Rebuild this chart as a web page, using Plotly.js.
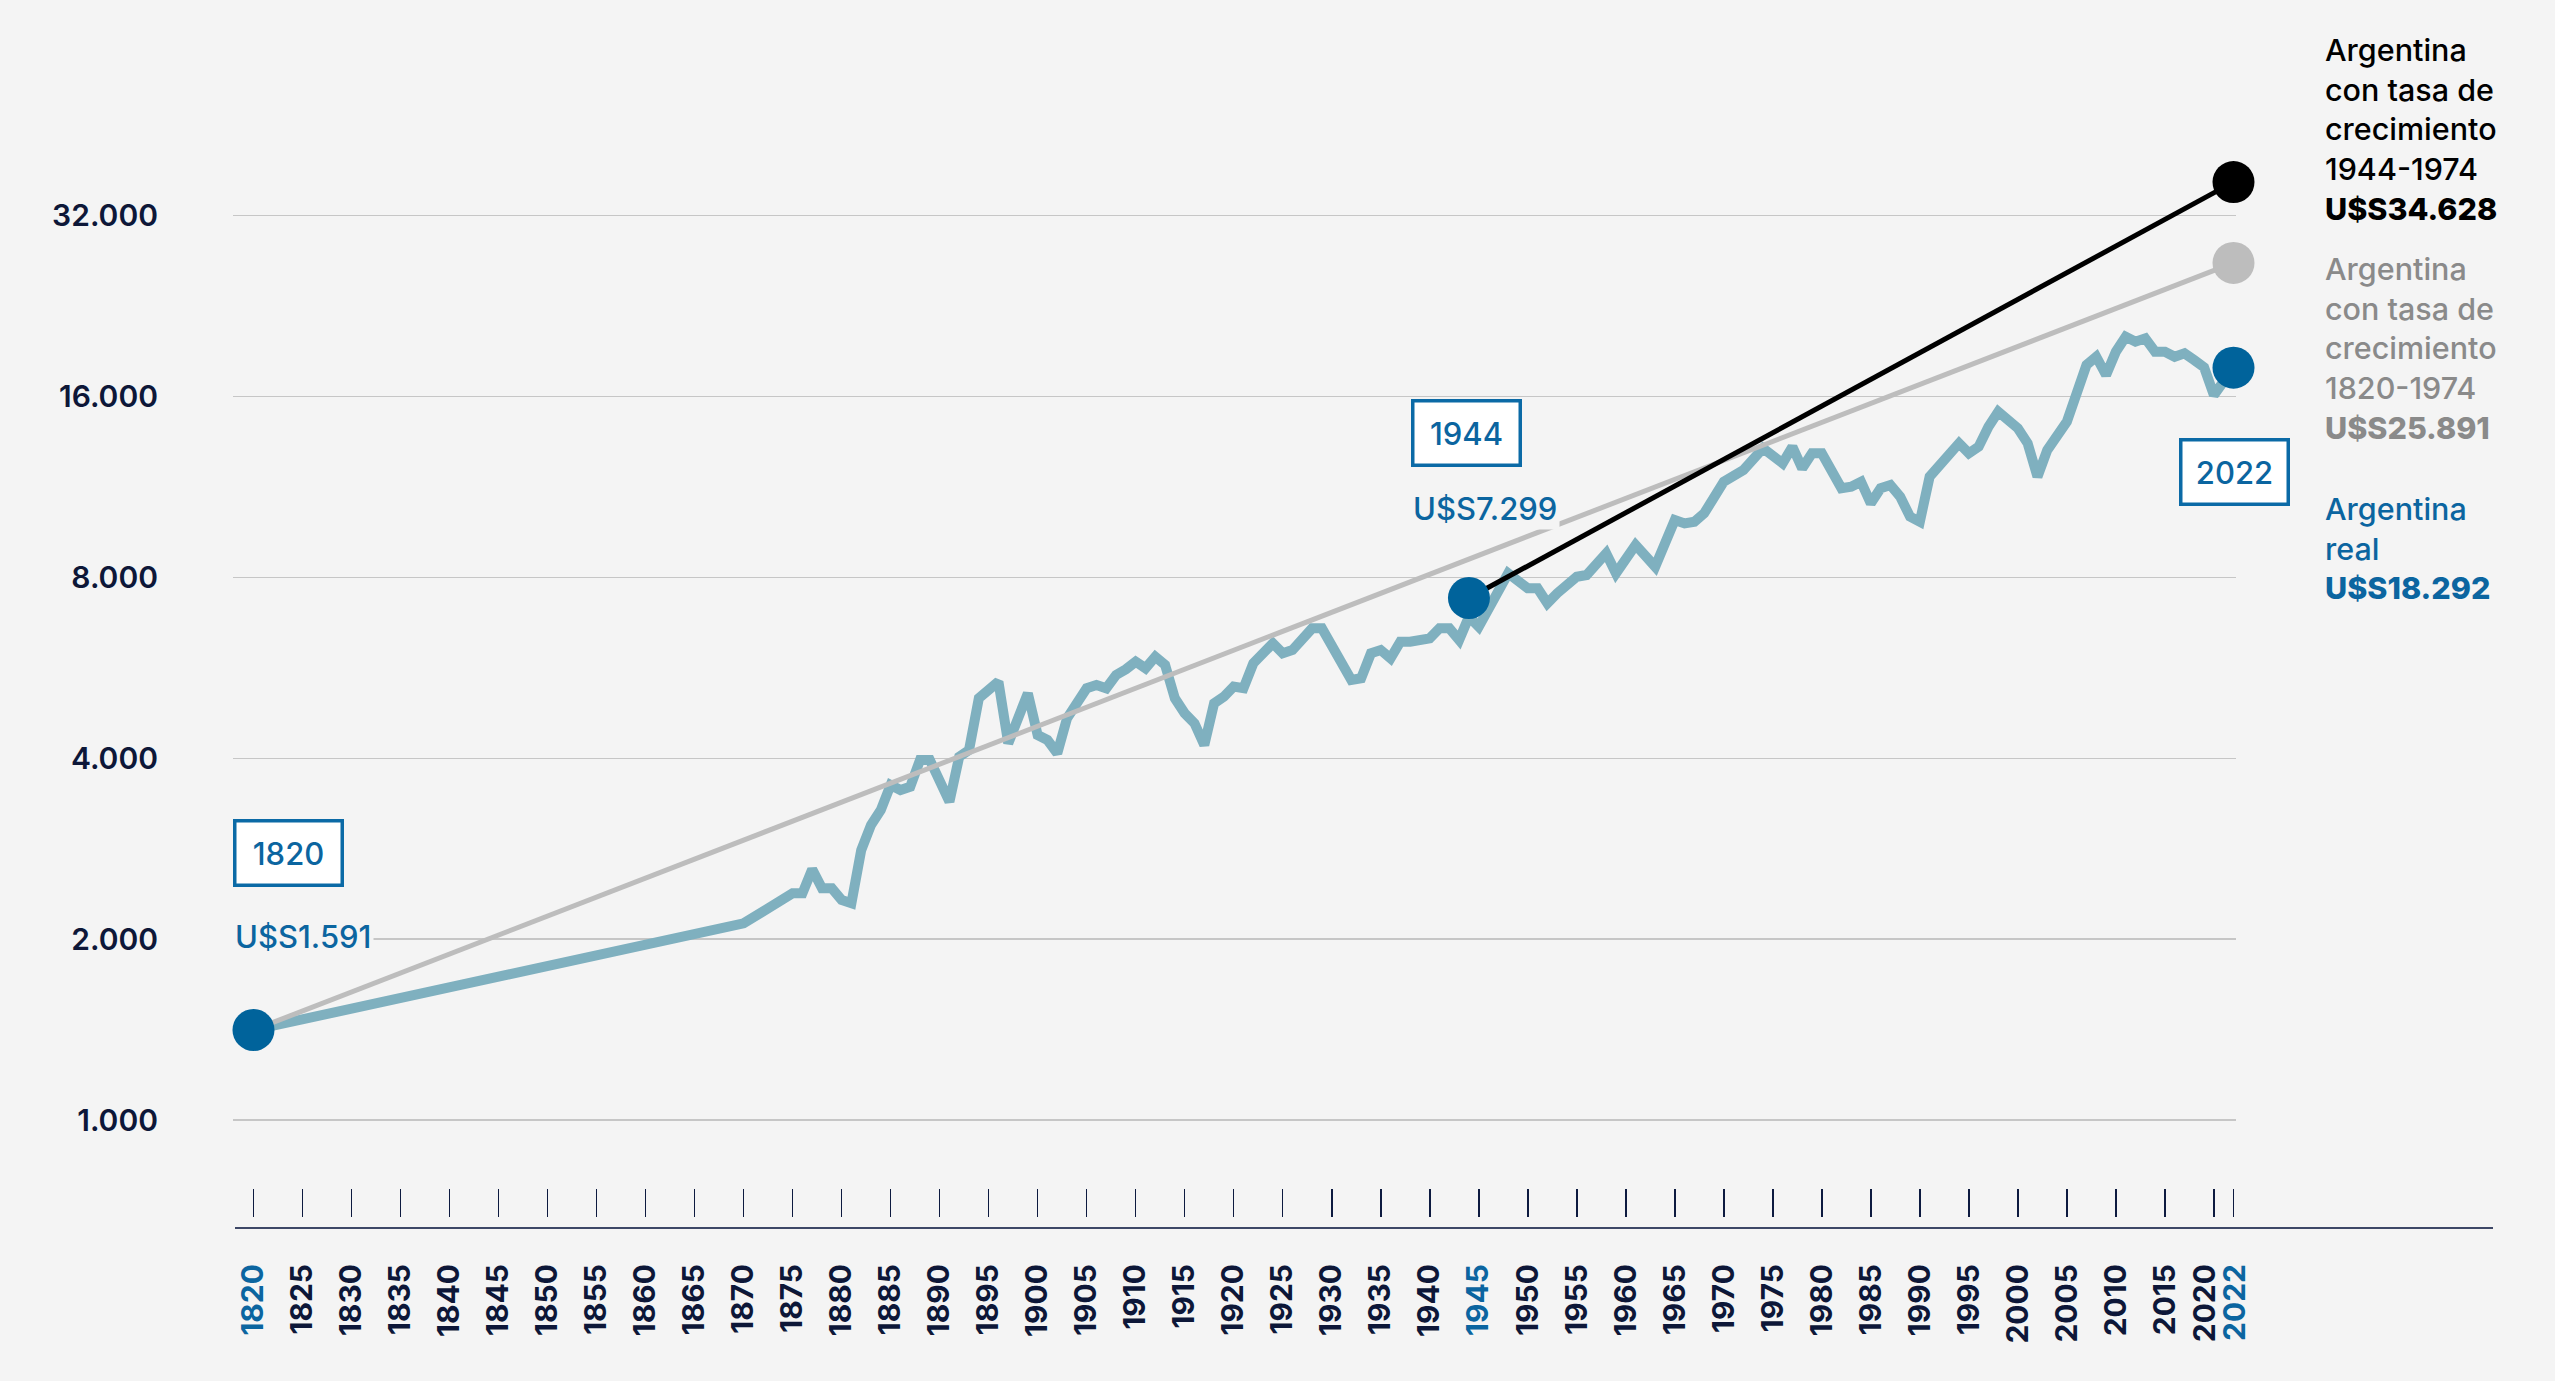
<!DOCTYPE html>
<html>
<head>
<meta charset="utf-8">
<script src="https://cdn.plot.ly/plotly-3.0.1.min.js"></script>
<style>
html,body{margin:0;padding:0;background:#f4f4f4;}
#chart{width:2555px;height:1381px;}
</style>
</head>
<body>
<div id="chart"></div>
<script>
// ---------- DATA ----------
const realYears = [1820,1870,1875,1876,1877,1878,1879,1880,1881,1882,1883,1884,1885,1886,1887,1888,1889,1891,1892,1893,1894,1896,1897,1899,1900,1901,1902,1903,1905,1906,1907,1908,1909,1910,1911,1912,1913,1914,1915,1916,1917,1918,1919,1920,1921,1922,1924,1925,1926,1928,1929,1932,1933,1934,1935,1936,1937,1938,1940,1941,1942,1943,1944,1945,1948,1950,1951,1952,1953,1955,1956,1958,1959,1961,1963,1965,1966,1967,1968,1969,1970,1972,1974,1976,1977,1978,1979,1980,1981,1982,1983,1984,1985,1986,1987,1988,1989,1990,1991,1994,1995,1996,1997,1998,2000,2001,2002,2003,2005,2006,2007,2008,2009,2010,2011,2012,2013,2014,2015,2016,2017,2018,2019,2020,2021,2022];
const realGdp = [1412,2125,2384,2384,2614,2430,2430,2324,2295,2814,3097,3281,3611,3542,3587,3974,3974,3387,4024,4129,5034,5365,4236,5131,4373,4290,4077,4663,5231,5297,5231,5504,5626,5792,5648,5904,5720,5034,4753,4574,4209,4938,5065,5264,5231,5756,6215,5981,6057,6583,6583,5400,5435,5981,6057,5867,6253,6253,6335,6583,6583,6293,6882,6624,8127,7673,7673,7244,7528,8022,8074,8776,8127,9060,8336,9970,9842,9903,10228,10832,11545,12075,13122,12388,13203,12153,12874,12874,11923,11257,11327,11545,10628,11257,11400,10900,10097,9903,11770,13377,12874,13203,14256,15098,14169,13377,11770,13035,14530,15990,18055,18640,17378,19000,20128,19745,20002,19000,19000,18640,18882,18400,17900,16095,16940,17870];

const trend1820Years = [1820, 2022];
const trend1820Gdp = [1412, 26700];
const trend1944Years = [1944, 2022];
const trend1944Gdp = [7393, 36400];

const keyYears = [1820, 1944, 2022];
const keyGdp = [1412, 7393, 17870];

const xTickYears = [1820,1825,1830,1835,1840,1845,1850,1855,1860,1865,1870,1875,1880,1885,1890,1895,1900,1905,1910,1915,1920,1925,1930,1935,1940,1945,1950,1955,1960,1965,1970,1975,1980,1985,1990,1995,2000,2005,2010,2015,2020,2022];
const highlightYears = [1820, 1945, 2022];
const yTickVals = [1000, 2000, 4000, 8000, 16000, 32000];
const yTickText = ['1.000', '2.000', '4.000', '8.000', '16.000', '32.000'];

const boxLabels = ['1820', '1944', '2022'];
const valueLabels = ['U$S1.591', 'U$S7.299'];
const blockBlack = ['Argentina', 'con tasa de', 'crecimiento', '1944-1974', 'U$S34.628'];
const blockGrey = ['Argentina', 'con tasa de', 'crecimiento', '1820-1974', 'U$S25.891'];
const blockBlue = ['Argentina', 'real', 'U$S18.292'];

// ---------- LAYOUT GEOMETRY ----------
const W = 2555, H = 1381;
const L = 233, R = 2236, T = 20, B = 1217;
const px = v => (v - L) / (R - L);
const py = v => (B - v) / (B - T);
const xRange = [1817.91, 2022.255];
const yRange = [2.83855, 4.83089];

const BLUE = '#0b65a0';
const NAVY = '#0d1738';
const FONT = 'Inter, "Noto Sans", sans-serif';

// label positions for the year axis (2020 nudged left so it does not collide with 2022)
const labelPos = xTickYears.map(y => y === 2020 ? y - 0.9 : (y === 2022 ? y + 0.2 : y));
const labelText = xTickYears.map(y => highlightYears.includes(y)
  ? '<span style="color:' + BLUE + '">' + y + '</span>' : String(y));

const traces = [
  {x: realYears, y: realGdp, type: 'scatter', mode: 'lines',
   line: {color: '#7fb0bf', width: 10}, cliponaxis: false, hoverinfo: 'skip'},
  {x: trend1820Years, y: trend1820Gdp, type: 'scatter', mode: 'lines',
   line: {color: '#bdbdbd', width: 5}, cliponaxis: false, hoverinfo: 'skip'},
  {x: trend1944Years, y: trend1944Gdp, type: 'scatter', mode: 'lines',
   line: {color: '#000000', width: 5}, cliponaxis: false, hoverinfo: 'skip'},
  {x: [trend1820Years[1]], y: [trend1820Gdp[1]], type: 'scatter', mode: 'markers',
   marker: {color: '#bdbdbd', size: 42}, cliponaxis: false, hoverinfo: 'skip'},
  {x: [trend1944Years[1]], y: [trend1944Gdp[1]], type: 'scatter', mode: 'markers',
   marker: {color: '#000000', size: 42}, cliponaxis: false, hoverinfo: 'skip'},
  {x: keyYears, y: keyGdp, type: 'scatter', mode: 'markers',
   marker: {color: '#00639b', size: 42}, cliponaxis: false, hoverinfo: 'skip'},
  // carrier for the label axis (invisible)
  {x: [xTickYears[0]], y: [yTickVals[0]], xaxis: 'x2', type: 'scatter', mode: 'markers',
   marker: {opacity: 0, size: 1}, hoverinfo: 'skip'}
];

function box(text, cx, cy) {
  return {xref: 'paper', yref: 'paper', x: px(cx), y: py(cy), text: text, showarrow: false,
    xanchor: 'center', yanchor: 'middle', width: 104, height: 61,
    bgcolor: '#ffffff', bordercolor: '#0b6aa6', borderwidth: 3.5, borderpad: 0,
    font: {family: FONT, size: 31, color: BLUE, weight: 500}};
}
function valueLabel(text, lx, cy) {
  return {xref: 'paper', yref: 'paper', x: px(lx), y: py(cy), text: text, showarrow: false,
    xanchor: 'left', yanchor: 'middle', bgcolor: '#f4f4f4', borderpad: 2,
    font: {family: FONT, size: 31, color: BLUE, weight: 500}};
}
function block(lines, cy, color) {
  const t = lines.slice(0, -1).join('<br>') +
    '<br><span style="font-weight:800">' + lines[lines.length - 1] + '</span>';
  return {xref: 'paper', yref: 'paper', x: px(2323), y: py(cy), text: t, showarrow: false,
    xanchor: 'left', yanchor: 'middle', align: 'left',
    font: {family: FONT, size: 30.5, color: color, weight: 500}};
}

const layout = {
  width: W, height: H,
  paper_bgcolor: '#f4f4f4', plot_bgcolor: '#f4f4f4',
  margin: {l: L, r: W - R, t: T, b: H - B, pad: 0},
  showlegend: false,
  font: {family: FONT, color: NAVY},
  xaxis: {type: 'linear', range: xRange, fixedrange: true,
    showgrid: false, zeroline: false, showline: false,
    tickmode: 'array', tickvals: xTickYears, showticklabels: false,
    ticks: 'inside', ticklen: 28, tickwidth: 1.6, tickcolor: '#0d1a40'},
  xaxis2: {type: 'linear', range: xRange, fixedrange: true, overlaying: 'x', anchor: 'y', side: 'bottom',
    showgrid: false, zeroline: false, showline: false, ticks: '',
    tickmode: 'array', tickvals: labelPos, ticktext: labelText, tickangle: -90,
    ticklabelstandoff: 40,
    tickfont: {family: FONT, size: 30, color: NAVY, weight: 700}},
  yaxis: {type: 'log', range: yRange, fixedrange: true,
    tickmode: 'array', tickvals: yTickVals, ticktext: yTickText,
    showgrid: true, gridcolor: '#c6c6c6', gridwidth: 1.3,
    zeroline: false, showline: false, ticks: '', ticklabelstandoff: 74,
    tickfont: {family: FONT, size: 30, color: NAVY, weight: 600}},
  shapes: [
    {type: 'line', xref: 'paper', yref: 'paper', x0: px(235), x1: px(2493), y0: py(1228), y1: py(1228),
     line: {color: '#3d4766', width: 2.2}}
  ],
  annotations: [
    box(boxLabels[0], 288.4, 852.5),
    box(boxLabels[1], 1466.2, 432.5),
    box(boxLabels[2], 2234.2, 471.7),
    valueLabel(valueLabels[0], 232, 936.7),
    valueLabel(valueLabels[1], 1409.5, 508.3),
    block(blockBlack, 129.5, '#000000'),
    block(blockGrey, 347.9, '#8a8a8a'),
    block(blockBlue, 547.6, BLUE)
  ]
};

Plotly.newPlot('chart', traces, layout, {staticPlot: true, displayModeBar: false});
</script>
</body>
</html>
